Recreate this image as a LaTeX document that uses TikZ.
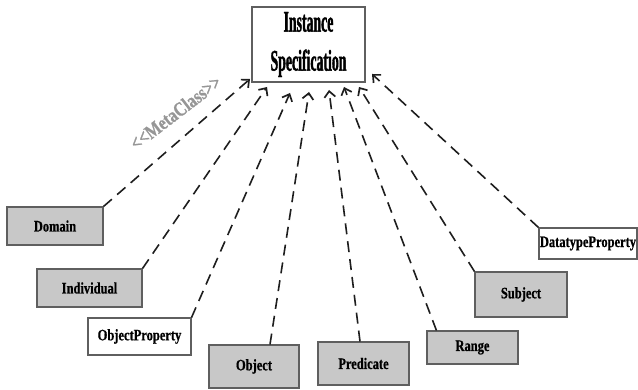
\documentclass[tikz,border=0pt]{standalone}
\usepackage{fontspec}
\setmainfont{Liberation Serif}
\newfontfamily\boxfont[FakeStretch=0.78, BoldFeatures={FakeBold=0.6}]{Liberation Serif}
\newfontfamily\narrowfont[FakeStretch=0.46, BoldFeatures={FakeBold=1.2}]{Liberation Serif}
\newfontfamily\metafont[FakeStretch=0.8, BoldFeatures={FakeBold=0.8}]{Liberation Serif}
\usetikzlibrary{arrows.meta}
\definecolor{boxgray}{RGB}{200,200,200}
\definecolor{edgegray}{RGB}{95,95,95}
\definecolor{linecol}{RGB}{30,30,30}
\definecolor{metagray}{RGB}{150,150,150}
\tikzset{
  cls/.style={draw=edgegray, line width=1.1pt, fill=boxgray, inner sep=0pt,
    font=\boxfont\bfseries\fontsize{16}{18}\selectfont, text=black},
  wcls/.style={cls, fill=white},
  dep/.style={draw=linecol, line width=1.6pt, dash pattern=on 11pt off 7pt,
    -{Straight Barb[length=6pt,width=11pt,line width=1.7pt]}},
}
\begin{document}
\begin{tikzpicture}[x=1pt,y=-1pt]
\useasboundingbox (0,0) rectangle (638,390);
\node[wcls, minimum width=113pt, minimum height=75pt, align=center,
  font=\narrowfont\bfseries\fontsize{30}{39}\selectfont] (is) at (308.5,44.5) {Instance\\Specification};
\node[cls,  minimum width=96pt,  minimum height=38pt] (domain)    at (55,226)    {Domain};
\node[cls,  minimum width=105pt, minimum height=38pt] (individual) at (89.5,288) {Individual};
\node[wcls, minimum width=103pt, minimum height=37pt] (objprop)   at (139.5,336.5) {ObjectProperty};
\node[cls,  minimum width=90pt,  minimum height=43pt] (object)    at (254,366.5) {Object};
\node[cls,  minimum width=91pt,  minimum height=43pt] (predicate) at (363.5,363.5) {Predicate};
\node[cls,  minimum width=91pt,  minimum height=33pt] (range)     at (472.5,347.5) {Range};
\node[cls,  minimum width=92pt,  minimum height=45pt] (subject)   at (521,294.5) {Subject};
\node[wcls, minimum width=98pt,  minimum height=31pt] (datatype)  at (588,243.5) {DatatypeProperty};
\coordinate (t1) at (250,79);
\coordinate (t2) at (267,87);
\coordinate (t3) at (290,93);
\coordinate (t4) at (309,92);
\coordinate (t5) at (329,90);
\coordinate (t6) at (344,87);
\coordinate (t7) at (359,87);
\coordinate (t8) at (372,74);
\coordinate (s4) at ([xshift=16pt]object.north);
\coordinate (s5) at ([xshift=-3.5pt]predicate.north);
\coordinate (s6) at ([xshift=10pt]range.north west);
\draw[dep] (domain.north east) -- (t1);
\draw[dep] (individual.north east) -- (t2);
\draw[dep] (objprop.north east) -- (t3);
\draw[dep] (s4) -- (t4);
\draw[dep] (s5) -- (t5);
\draw[dep] (s6) -- (t6);
\draw[dep] (subject.north west) -- (t7);
\draw[dep] (datatype.north west) -- (t8);
\node[text=metagray, font=\metafont\bfseries\fontsize{20}{22}\selectfont, rotate=37.4, inner sep=0pt] (meta) at (175.5,112.5) {<<MetaClass>>};
\end{tikzpicture}
\end{document}
